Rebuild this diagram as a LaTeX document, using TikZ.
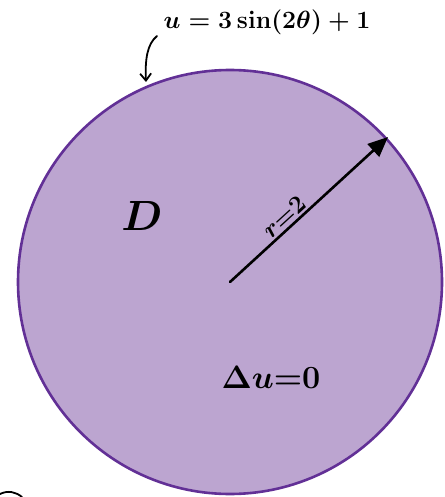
\documentclass[tikz,border=0pt]{standalone}
\usepackage{graphicx}
\usetikzlibrary{arrows.meta,calc}
\definecolor{diskfill}{RGB}{188,165,208}
\definecolor{diskedge}{RGB}{98,48,150}
\begin{document}
\begin{tikzpicture}[x=1pt,y=-1pt,
  lbl/.style={inner sep=0pt, font=\Huge\boldmath},
  pen/.style={line width=2.6pt, line cap=round, black}]
\useasboundingbox (0,0) rectangle (444,497);
\coordinate (c) at (230,282);
\draw[diskedge, fill=diskfill, line width=2.6pt] (c) circle[radius=212];
\coordinate (tip) at (388,137);
\draw[pen, -{Triangle[length=20pt,width=17pt]}] (c) -- (tip);
\node[lbl, font=\huge\boldmath, rotate=42.4, anchor=south, yshift=3pt] (r) at ($(c)!0.39!(tip)$) {\scalebox{1.2}{$r{=}2$}};
\node[lbl] (D) at (142,216) {\scalebox{1.7}{$D$}};
\node[lbl] (lap) at (271,377) {\scalebox{1.3}{$\Delta u{=}0$}};
\node[lbl] (bc) at (267,22) {$u=3\sin(2\theta)+1$};
\coordinate (bcs) at (157,36);
\coordinate (bce) at (146,82);
\draw[pen, line width=1.8pt, -{Straight Barb[length=7pt,width=11pt]}] (bcs) .. controls (147,44) and (145,60) .. (bce);
\coordinate (fa) at (0,494);
\coordinate (fb) at (22,497);
\draw[pen, line width=1.8pt] (fa) .. controls (8,490) and (16,492) .. (fb);
\end{tikzpicture}
\end{document}
